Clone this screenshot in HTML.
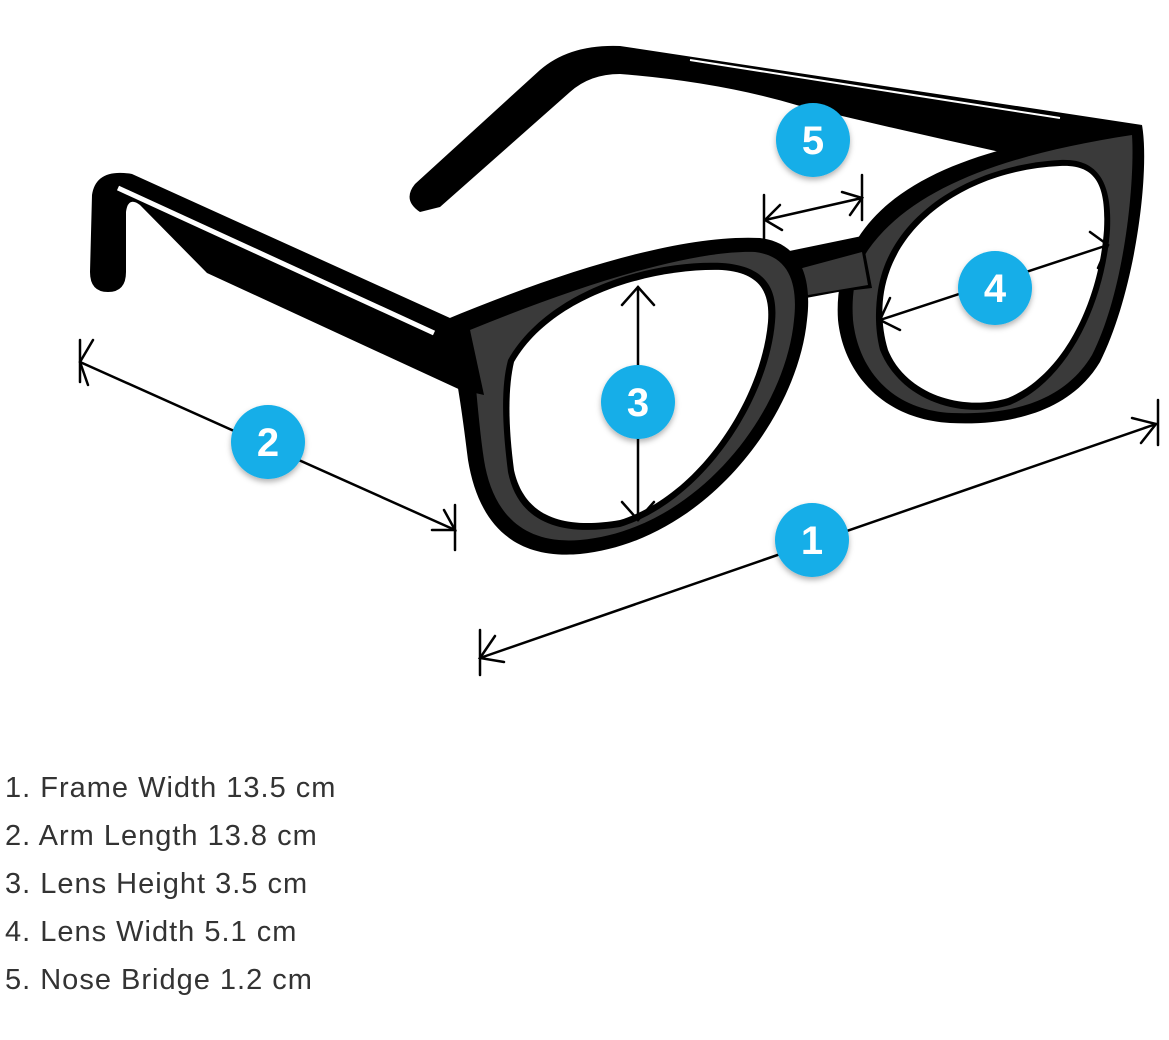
<!DOCTYPE html>
<html><head><meta charset="utf-8"><style>
html,body{margin:0;padding:0;background:#fff;width:1169px;height:1040px;overflow:hidden}
svg{position:absolute;left:0;top:0}
.t{position:absolute;left:5px;font-family:"Liberation Sans",sans-serif;font-size:29px;color:#333;letter-spacing:1px;line-height:34px;white-space:nowrap}
</style></head><body>
<svg width="1169" height="720" viewBox="0 0 1169 720">
<defs>
<filter id="sh" x="-30%" y="-30%" width="160%" height="160%"><feDropShadow dx="0" dy="3" stdDeviation="3" flood-color="#000" flood-opacity="0.3"/></filter>
</defs>
<path d="M420,212 Q402,200 415,184 L540,70 Q570,44 620,46 L1142,125 L1000,152 Q900,130 800,106 Q720,82 620,74 Q590,74 570,92 L440,207 Z" fill="#000"/>
<path d="M690,60 L1060,118" stroke="#fff" stroke-width="2"/>
<path d="M92,195 Q96,168 132,174 L450,318 L465,392 L207,273 L140,205 Q128,196 126,212 L126,272 Q126,292 108,292 Q90,292 90,272 Z" fill="#000"/>
<path d="M118,188 L434,333" stroke="#fff" stroke-width="5"/>
<path d="M858,238 C900,172 1000,140 1142,125 C1150,170 1136,290 1100,362 C1070,412 1010,426 950,423 C880,419 843,370 838,320 C836,290 843,260 858,238 Z" fill="#000"/>
<path d="M868,250 C910,190 1000,155 1132,135 C1135,180 1125,290 1092,355 C1062,405 1005,415 952,413 C890,410 858,368 853,320 C851,292 856,268 868,250 Z" fill="#3a3a3a"/>
<path d="M878,290 C890,215 970,165 1060,160 C1100,158 1112,185 1110,230 C1105,300 1070,380 1010,405 C960,420 900,400 880,350 C875,330 875,310 878,290 Z" fill="#000"/>
<path d="M884,292 C896,220 972,170 1060,166 C1098,164 1106,188 1104,230 C1099,298 1066,374 1008,398 C962,412 906,394 888,350 C882,330 881,310 884,292 Z" fill="#fff"/>
<path d="M770,255 L862,236 L872,288 L838,292 L806,298 L795,268 Z" fill="#000"/>
<path d="M795,270 L862,252 L868,285 L838,290 L808,295 Z" fill="#3a3a3a"/>
<path d="M445,320 C560,272 680,234 760,238 C802,243 812,280 807,320 C797,420 702,542 580,554 C510,560 478,520 468,460 C463,420 458,380 445,320 Z" fill="#000"/>
<path d="M470,330 C580,285 690,250 755,252 C790,256 798,285 794,320 C785,415 695,530 580,540 C520,545 492,510 484,460 C478,420 476,380 470,330 Z" fill="#3a3a3a"/>
<path d="M508,360 C548,290 650,260 722,263 C767,266 778,290 775,322 C768,402 702,502 620,527 C560,537 518,522 508,472 C503,432 500,390 508,360 Z" fill="#000"/>
<path d="M514,362 C552,296 652,268 722,270 C762,273 770,294 768,322 C761,400 698,496 620,520 C562,530 524,516 514,470 C509,432 507,392 514,362 Z" fill="#fff"/>
<path d="M440,320 L470,330 L484,395 L462,390 Z" fill="#000"/>
<g stroke="#000" stroke-width="2.5" fill="none" stroke-linecap="round">
<path d="M480,658 L1156,424"/><path d="M480,630 L480,675"/><path d="M1158,400 L1158,445"/>
<path d="M495,636 L480,658 L504,662"/><path d="M1132,418 L1156,424 L1141,443"/>
<path d="M80,362 L455,530"/><path d="M80,340 L80,382"/><path d="M455,505 L455,550"/>
<path d="M93,340 L80,362 L88,385"/><path d="M432,530 L455,530 L444,510"/>
<path d="M638,287 L638,520"/><path d="M622,305 L638,287 L654,305"/><path d="M622,502 L638,520 L654,502"/>
<path d="M880,320 L1108,245"/><path d="M890,298 L880,320 L900,330"/><path d="M1090,232 L1108,245 L1098,268"/>
<path d="M765,220 L862,198"/><path d="M764,195 L764,240"/><path d="M862,175 L862,220"/>
<path d="M780,205 L765,220 L782,230"/><path d="M842,192 L862,198 L850,215"/>
</g>
<g filter="url(#sh)" fill="#12aee8">
<circle cx="812" cy="540" r="37"/><circle cx="268" cy="442" r="37"/><circle cx="638" cy="402" r="37"/><circle cx="995" cy="288" r="37"/><circle cx="813" cy="140" r="37"/>
</g>
<g fill="#fff" font-family="Liberation Sans,sans-serif" font-weight="bold" font-size="40" text-anchor="middle">
<text x="812" y="554">1</text><text x="268" y="456">2</text><text x="638" y="416">3</text><text x="995" y="302">4</text><text x="813" y="154">5</text>
</g>
</svg>
<div class="t" style="top:771px">1. Frame Width 13.5 cm</div>
<div class="t" style="top:819px">2. Arm Length 13.8 cm</div>
<div class="t" style="top:867px">3. Lens Height 3.5 cm</div>
<div class="t" style="top:915px">4. Lens Width 5.1 cm</div>
<div class="t" style="top:963px">5. Nose Bridge 1.2 cm</div>
</body></html>
